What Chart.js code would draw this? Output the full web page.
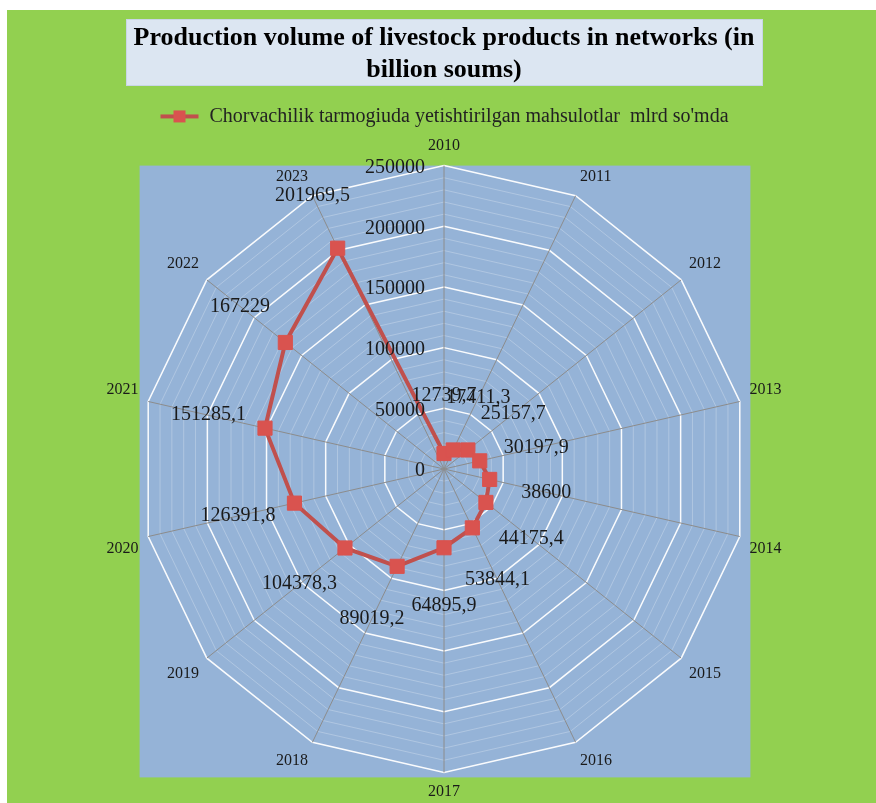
<!DOCTYPE html>
<html>
<head>
<meta charset="utf-8">
<script src="https://cdn.jsdelivr.net/npm/chart.js@4.4.1/dist/chart.umd.min.js"></script>
<style>
  html, body { margin: 0; padding: 0; background: #ffffff; }
  #wrap { width: 876px; height: 803px; }
</style>
</head>
<body>
<div id="wrap"><canvas id="radarChart" width="876" height="803"></canvas></div>
<script>
// Years around the radar
const years = ['2010', '2011', '2012', '2013', '2014', '2015', '2016',
               '2017', '2018', '2019', '2020', '2021', '2022', '2023'];

// Livestock production, billion soums
const production = [12739.7, 17411.3, 25157.7, 30197.9, 38600, 44175.4, 53844.1,
                    64895.9, 89019.2, 104378.3, 126391.8, 151285.1, 167229, 201969.5];

// Labels shown on the data points (comma decimals as in the source)
const productionLabels = ['12739,7', '17411,3', '25157,7', '30197,9', '38600', '44175,4', '53844,1',
                          '64895,9', '89019,2', '104378,3', '126391,8', '151285,1', '167229', '201969,5'];

// Radial axis
const radialMax = 250000;
const radialStep = 10000;
const majorStep = 50000;

const serif = "'Liberation Serif', 'Times New Roman', serif";

// legend swatch: line with a square marker
function legendSwatch() {
  const c = document.createElement('canvas');
  c.width = 40; c.height = 16;
  const g = c.getContext('2d');
  g.strokeStyle = '#C0504D';
  g.lineWidth = 4;
  g.beginPath(); g.moveTo(1, 8); g.lineTo(39, 8); g.stroke();
  g.fillStyle = '#D9534F';
  g.fillRect(14, 2, 12, 12);
  return c;
}

// page background, title box and the blue plot square
const backdrop = {
  id: 'backdrop',
  beforeDraw(chart) {
    const ctx = chart.ctx;
    const r = chart.scales.r;
    ctx.save();
    ctx.fillStyle = '#ffffff';
    ctx.fillRect(0, 0, chart.width, chart.height);
    ctx.fillStyle = '#92D050';
    ctx.fillRect(7, 10, chart.width - 7, chart.height - 10);

    // title box
    const t = chart.titleBlock;
    ctx.fillStyle = '#DCE6F2';
    ctx.fillRect(126, t.top, 637, 67);
    ctx.strokeStyle = '#c9d6e6';
    ctx.lineWidth = 1;
    ctx.strokeRect(126.5, t.top + 0.5, 636, 66);

    // plot square
    const R = r.drawingArea;
    ctx.fillStyle = '#95B3D7';
    ctx.fillRect(r.xCenter - R - 1, r.yCenter - R, 2 * R + 4, 2 * R + 5);
    ctx.restore();
  }
};

// tick values to the left of the 2010 axis, data values outside the points
const labels = {
  id: 'labels',
  afterDatasetsDraw(chart) {
    const ctx = chart.ctx;
    const r = chart.scales.r;
    ctx.save();
    ctx.fillStyle = '#1a1a1a';
    ctx.font = '20px ' + serif;
    ctx.textAlign = 'right';
    ctx.textBaseline = 'middle';
    for (let v = 0; v <= radialMax; v += majorStep) {
      const d = r.getDistanceFromCenterForValue(v);
      ctx.fillText(String(v), r.xCenter - 19, r.yCenter - d + 2);
    }

    ctx.textAlign = 'center';
    const meta = chart.getDatasetMeta(0);
    meta.data.forEach((pt, i) => {
      const dx = pt.x - r.xCenter;
      const dy = pt.y - r.yCenter;
      const len = Math.hypot(dx, dy) || 1;
      const off = 58;
      ctx.fillText(productionLabels[i], pt.x + dx / len * off, pt.y + dy / len * off);
    });
    ctx.restore();
  }
};

const ctx = document.getElementById('radarChart').getContext('2d');
const swatch = legendSwatch();

new Chart(ctx, {
  type: 'radar',
  data: {
    labels: years,
    datasets: [{
      label: "Chorvachilik tarmogiuda yetishtirilgan mahsulotlar  mlrd so'mda",
      data: production,
      borderColor: '#C0504D',
      borderWidth: 4,
      backgroundColor: 'rgba(0,0,0,0)',
      fill: false,
      pointStyle: 'rect',
      pointRadius: 10,
      pointHoverRadius: 10,
      pointBackgroundColor: '#D9534F',
      pointBorderColor: '#D9534F',
      pointBorderWidth: 1
    }]
  },
  options: {
    responsive: false,
    animation: false,
    devicePixelRatio: 1,
    layout: { padding: { top: 19, left: 12, right: 0, bottom: 0 } },
    plugins: {
      title: {
        display: true,
        text: ['Production volume of livestock products in networks (in', 'billion soums)'],
        color: '#000000',
        font: { family: serif, size: 26, weight: 'bold', lineHeight: 1.2 },
        padding: { top: 4, bottom: 15 }
      },
      legend: {
        position: 'top',
        labels: {
          color: '#222222',
          font: { family: serif, size: 20 },
          usePointStyle: true,
          pointStyleWidth: 40,
          padding: 6,
          generateLabels(chart) {
            const items = Chart.defaults.plugins.legend.labels.generateLabels(chart);
            items.forEach(it => { it.pointStyle = swatch; });
            return items;
          }
        }
      },
      tooltip: { enabled: false }
    },
    scales: {
      r: {
        min: 0,
        max: radialMax,
        ticks: { stepSize: radialStep, display: false },
        grid: {
          color: c => (c.tick && c.tick.value % majorStep === 0) ? 'rgba(255,255,255,0.95)' : 'rgba(255,255,255,0.25)',
          lineWidth: c => (c.tick && c.tick.value % majorStep === 0) ? 1.5 : 1
        },
        angleLines: { color: '#8c8c8c', lineWidth: 1 },
        pointLabels: {
          color: '#1a1a1a',
          font: { family: serif, size: 16 },
          padding: 10
        }
      }
    }
  },
  plugins: [backdrop, labels]
});
</script>
</body>
</html>
